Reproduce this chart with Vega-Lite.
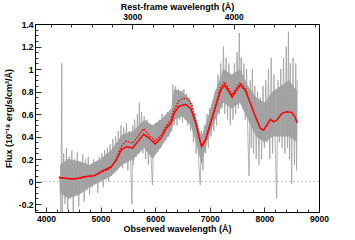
{
  "$schema": "https://vega.github.io/schema/vega-lite/v6.json",
  "width": 284,
  "height": 188,
  "autosize": "none",
  "padding": {"left": 35, "top": 24, "right": 36, "bottom": 28},
  "background": "white",
  "config": {
    "view": {"stroke": "black", "strokeWidth": 1},
    "axis": {
      "domain": false, "grid": false, "labelFont": "Liberation Sans", "titleFont": "Liberation Sans",
      "labelFontSize": 8.5, "labelFontWeight": "bold", "titleFontSize": 9, "titleFontWeight": "bold",
      "labelColor": "black", "titleColor": "black", "tickColor": "black", "tickWidth": 0.8
    }
  },
  "datasets": {
    "band": [
      {"w":4260,"lo":-0.1,"hi":0.15},{"w":4400,"lo":-0.15,"hi":0.2},{"w":4600,"lo":-0.12,"hi":0.18},{"w":4800,"lo":-0.05,"hi":0.15},{"w":5000,"lo":0.0,"hi":0.2},{"w":5200,"lo":0.05,"hi":0.28},{"w":5400,"lo":0.15,"hi":0.42},{"w":5600,"lo":0.2,"hi":0.45},{"w":5800,"lo":0.3,"hi":0.55},{"w":5950,"lo":0.2,"hi":0.5},{"w":6100,"lo":0.3,"hi":0.55},{"w":6300,"lo":0.45,"hi":0.65},{"w":6350,"lo":0.55,"hi":0.82},{"w":6500,"lo":0.58,"hi":0.8},{"w":6650,"lo":0.5,"hi":0.72},{"w":6750,"lo":0.35,"hi":0.55},{"w":6850,"lo":0.15,"hi":0.4},{"w":6950,"lo":0.35,"hi":0.55},{"w":7100,"lo":0.55,"hi":0.8},{"w":7250,"lo":0.7,"hi":1.0},{"w":7400,"lo":0.65,"hi":0.95},{"w":7550,"lo":0.7,"hi":1.0},{"w":7700,"lo":0.55,"hi":0.85},{"w":7850,"lo":0.4,"hi":0.75},{"w":8000,"lo":0.35,"hi":0.7},{"w":8150,"lo":0.4,"hi":0.8},{"w":8300,"lo":0.4,"hi":0.85},{"w":8450,"lo":0.4,"hi":0.9},{"w":8600,"lo":0.35,"hi":0.8}
    ],
    "spec": [
      {"w":4250,"f":0.05},{"w":4275,"f":-0.27},{"w":4290,"f":1.05},{"w":4300,"f":-0.27},{"w":4325,"f":0.25},{"w":4350,"f":-0.2},{"w":4375,"f":0.3},{"w":4400,"f":-0.25},{"w":4425,"f":0.22},{"w":4450,"f":-0.15},{"w":4475,"f":0.28},{"w":4500,"f":-0.27},{"w":4525,"f":0.2},{"w":4550,"f":-0.1},{"w":4575,"f":0.26},{"w":4600,"f":-0.22},{"w":4625,"f":0.18},{"w":4650,"f":-0.05},{"w":4675,"f":0.24},{"w":4700,"f":-0.18},{"w":4725,"f":0.2},{"w":4750,"f":-0.08},{"w":4775,"f":0.22},{"w":4800,"f":-0.12},{"w":4825,"f":0.15},{"w":4850,"f":-0.05},{"w":4875,"f":0.2},{"w":4900,"f":-0.02},{"w":4925,"f":0.18},{"w":4950,"f":-0.1},{"w":4975,"f":0.22},{"w":5000,"f":0.0},{"w":5025,"f":0.25},{"w":5050,"f":-0.05},{"w":5075,"f":0.28},{"w":5100,"f":0.02},{"w":5125,"f":0.3},{"w":5150,"f":0.0},{"w":5175,"f":0.33},{"w":5200,"f":0.05},{"w":5225,"f":0.38},{"w":5250,"f":0.08},{"w":5275,"f":0.4},{"w":5300,"f":0.1},{"w":5325,"f":0.45},{"w":5350,"f":0.15},{"w":5375,"f":0.5},{"w":5400,"f":0.12},{"w":5425,"f":0.48},{"w":5450,"f":0.2},{"w":5475,"f":0.52},{"w":5500,"f":0.1},{"w":5525,"f":0.45},{"w":5550,"f":0.18},{"w":5575,"f":-0.2},{"w":5590,"f":0.5},{"w":5600,"f":0.15},{"w":5625,"f":0.55},{"w":5650,"f":0.22},{"w":5675,"f":0.6},{"w":5700,"f":0.25},{"w":5710,"f":0.7},{"w":5725,"f":0.3},{"w":5750,"f":0.62},{"w":5775,"f":0.25},{"w":5800,"f":0.58},{"w":5825,"f":0.2},{"w":5850,"f":0.55},{"w":5875,"f":0.15},{"w":5900,"f":0.5},{"w":5925,"f":0.2},{"w":5950,"f":-0.03},{"w":5975,"f":0.45},{"w":6000,"f":0.25},{"w":6025,"f":0.52},{"w":6050,"f":0.28},{"w":6075,"f":0.55},{"w":6100,"f":0.3},{"w":6125,"f":0.6},{"w":6150,"f":0.35},{"w":6175,"f":0.58},{"w":6200,"f":0.38},{"w":6225,"f":0.62},{"w":6250,"f":0.4},{"w":6275,"f":0.6},{"w":6300,"f":0.45},{"w":6325,"f":0.86},{"w":6350,"f":0.5},{"w":6375,"f":0.85},{"w":6400,"f":0.5},{"w":6425,"f":0.82},{"w":6450,"f":0.55},{"w":6475,"f":0.8},{"w":6500,"f":0.52},{"w":6525,"f":0.82},{"w":6550,"f":0.55},{"w":6575,"f":0.78},{"w":6600,"f":0.5},{"w":6625,"f":0.75},{"w":6650,"f":0.45},{"w":6675,"f":0.7},{"w":6700,"f":0.35},{"w":6725,"f":0.6},{"w":6750,"f":0.25},{"w":6775,"f":0.5},{"w":6800,"f":0.15},{"w":6825,"f":-0.03},{"w":6850,"f":0.45},{"w":6875,"f":0.1},{"w":6900,"f":0.5},{"w":6925,"f":0.25},{"w":6950,"f":0.6},{"w":6975,"f":0.3},{"w":7000,"f":0.65},{"w":7025,"f":0.4},{"w":7050,"f":0.72},{"w":7075,"f":0.45},{"w":7100,"f":0.8},{"w":7125,"f":0.5},{"w":7150,"f":0.95},{"w":7175,"f":0.6},{"w":7200,"f":1.05},{"w":7225,"f":0.65},{"w":7250,"f":1.2},{"w":7275,"f":0.6},{"w":7300,"f":1.1},{"w":7325,"f":0.55},{"w":7350,"f":1.05},{"w":7375,"f":0.5},{"w":7400,"f":0.95},{"w":7425,"f":0.55},{"w":7450,"f":1.05},{"w":7475,"f":0.6},{"w":7500,"f":1.15},{"w":7525,"f":0.65},{"w":7540,"f":1.32},{"w":7560,"f":0.7},{"w":7575,"f":1.1},{"w":7600,"f":0.65},{"w":7625,"f":1.05},{"w":7650,"f":0.55},{"w":7675,"f":1.0},{"w":7700,"f":0.35},{"w":7720,"f":0.05},{"w":7740,"f":0.9},{"w":7760,"f":0.3},{"w":7780,"f":1.0},{"w":7800,"f":0.25},{"w":7825,"f":0.85},{"w":7850,"f":0.2},{"w":7875,"f":0.8},{"w":7900,"f":0.15},{"w":7925,"f":0.75},{"w":7950,"f":0.2},{"w":7975,"f":0.85},{"w":8000,"f":0.3},{"w":8025,"f":0.9},{"w":8050,"f":0.35},{"w":8075,"f":1.0},{"w":8100,"f":0.2},{"w":8125,"f":1.1},{"w":8150,"f":0.25},{"w":8175,"f":0.95},{"w":8200,"f":0.3},{"w":8225,"f":-0.15},{"w":8250,"f":0.9},{"w":8275,"f":0.35},{"w":8300,"f":1.0},{"w":8325,"f":0.3},{"w":8350,"f":1.1},{"w":8375,"f":0.25},{"w":8400,"f":1.2},{"w":8425,"f":0.3},{"w":8440,"f":1.33},{"w":8460,"f":0.2},{"w":8475,"f":1.05},{"w":8500,"f":-0.02},{"w":8525,"f":1.1},{"w":8550,"f":0.15},{"w":8575,"f":1.05},{"w":8590,"f":0.1},{"w":8600,"f":0.9}
    ],
    "model": [
      {"w":4237,"f":0.036},{"w":4350,"f":0.03},{"w":4500,"f":0.024},{"w":4600,"f":0.03},{"w":4710,"f":0.044},{"w":4890,"f":0.053},{"w":5013,"f":0.089},{"w":5100,"f":0.11},{"w":5195,"f":0.133},{"w":5286,"f":0.19},{"w":5377,"f":0.28},{"w":5470,"f":0.31},{"w":5590,"f":0.3},{"w":5680,"f":0.355},{"w":5790,"f":0.42},{"w":5893,"f":0.385},{"w":6000,"f":0.334},{"w":6105,"f":0.385},{"w":6197,"f":0.47},{"w":6290,"f":0.52},{"w":6350,"f":0.61},{"w":6440,"f":0.67},{"w":6560,"f":0.686},{"w":6650,"f":0.65},{"w":6743,"f":0.52},{"w":6800,"f":0.4},{"w":6850,"f":0.31},{"w":6925,"f":0.37},{"w":7015,"f":0.52},{"w":7107,"f":0.666},{"w":7198,"f":0.81},{"w":7270,"f":0.858},{"w":7350,"f":0.8},{"w":7410,"f":0.75},{"w":7470,"f":0.8},{"w":7560,"f":0.858},{"w":7650,"f":0.81},{"w":7745,"f":0.695},{"w":7835,"f":0.577},{"w":7926,"f":0.473},{"w":7987,"f":0.459},{"w":8048,"f":0.503},{"w":8110,"f":0.553},{"w":8170,"f":0.53},{"w":8230,"f":0.547},{"w":8320,"f":0.607},{"w":8410,"f":0.62},{"w":8500,"f":0.615},{"w":8560,"f":0.575},{"w":8600,"f":0.52}
    ],
    "model2": [
      {"w":4237,"f":0.036},{"w":4350,"f":0.03},{"w":4500,"f":0.024},{"w":4600,"f":0.03},{"w":4710,"f":0.044},{"w":4890,"f":0.053},{"w":5013,"f":0.085},{"w":5100,"f":0.1},{"w":5195,"f":0.125},{"w":5286,"f":0.2},{"w":5377,"f":0.31},{"w":5470,"f":0.36},{"w":5590,"f":0.34},{"w":5680,"f":0.4},{"w":5790,"f":0.47},{"w":5893,"f":0.41},{"w":6000,"f":0.36},{"w":6105,"f":0.41},{"w":6197,"f":0.49},{"w":6290,"f":0.55},{"w":6350,"f":0.64},{"w":6440,"f":0.72},{"w":6520,"f":0.74},{"w":6600,"f":0.735},{"w":6670,"f":0.68},{"w":6743,"f":0.55},{"w":6800,"f":0.41},{"w":6850,"f":0.32},{"w":6925,"f":0.38},{"w":7015,"f":0.53},{"w":7107,"f":0.68},{"w":7198,"f":0.84},{"w":7270,"f":0.885},{"w":7350,"f":0.82},{"w":7410,"f":0.77},{"w":7470,"f":0.82},{"w":7560,"f":0.88},{"w":7650,"f":0.83},{"w":7700,"f":0.77}
    ]
  },
  "resolve": {"axis": {"x": "independent", "y": "independent"}},
  "layer": [
    {
      "data": {"values": [{"z": 0}]},
      "mark": {"type": "rule", "color": "#c4c4c4", "strokeDash": [2, 2], "strokeWidth": 1},
      "encoding": {"y": {"field": "z", "type": "quantitative", "scale": {"domain": [-0.27, 1.4]}, "axis": null}}
    },
    {
      "data": {"name": "band"},
      "mark": {"type": "area", "color": "#a6a6a6", "opacity": 1, "clip": true},
      "encoding": {
        "x": {"field": "w", "type": "quantitative", "scale": {"domain": [3800, 9000], "nice": false, "zero": false}, "axis": null},
        "y": {"field": "lo", "type": "quantitative", "scale": {"domain": [-0.27, 1.4], "nice": false, "zero": false}, "axis": null},
        "y2": {"field": "hi"}
      }
    },
    {
      "data": {"name": "spec"},
      "mark": {"type": "line", "color": "#a0a0a0", "strokeWidth": 0.8, "clip": true},
      "encoding": {
        "x": {"field": "w", "type": "quantitative",
          "axis": {"orient": "bottom", "values": [4000, 5000, 6000, 7000, 8000, 9000], "format": "d", "tickSize": -5, "labelPadding": 7, "title": "Observed wavelength (Å)", "titlePadding": 2, "labelFlush": false}},
        "y": {"field": "f", "type": "quantitative",
          "axis": {"orient": "left", "values": [-0.2, 0, 0.2, 0.4, 0.6, 0.8, 1, 1.2, 1.4], "tickSize": -6, "labelPadding": 8, "labelExpr": "replace(format(datum.value, '~g'), '−', '-')", "title": "Flux (10⁻¹⁸ erg/s/cm²/Å)", "titlePadding": 5, "labelFlush": false}}
      }
    },
    {
      "data": {"name": "model2"},
      "mark": {"type": "line", "color": "#ff0000", "strokeWidth": 1.5, "strokeDash": [1.5, 1.5], "clip": true},
      "encoding": {
        "x": {"field": "w", "type": "quantitative", "axis": {"orient": "bottom", "values": [4200, 4400, 4600, 4800, 5200, 5400, 5600, 5800, 6200, 6400, 6600, 6800, 7200, 7400, 7600, 7800, 8200, 8400, 8600, 8800], "tickSize": -3, "labels": false, "title": null}},
        "y": {"field": "f", "type": "quantitative", "axis": {"orient": "left", "values": [-0.25, -0.15, -0.1, -0.05, 0.05, 0.1, 0.15, 0.25, 0.3, 0.35, 0.45, 0.5, 0.55, 0.65, 0.7, 0.75, 0.85, 0.9, 0.95, 1.05, 1.1, 1.15, 1.25, 1.3, 1.35], "tickSize": -3, "labels": false, "title": null}}
      }
    },
    {
      "data": {"name": "model"},
      "mark": {"type": "line", "color": "#ff0000", "strokeWidth": 1.5, "clip": true},
      "encoding": {
        "x": {"field": "w", "type": "quantitative", "axis": {"orient": "top", "values": [5580, 7440], "tickSize": -5, "labelPadding": 8, "labelExpr": "datum.value < 6000 ? '3000' : '4000'", "title": "Rest-frame wavelength (Å)", "titlePadding": 1, "labelFlush": false}},
        "y": {"field": "f", "type": "quantitative", "axis": null}
      }
    },
    {
      "data": {"name": "model"},
      "mark": {"type": "line", "opacity": 0, "clip": true},
      "encoding": {
        "x": {"field": "w", "type": "quantitative", "axis": {"orient": "top", "values": [4092, 4464, 4836, 5208, 5952, 6324, 6696, 7068, 7812, 8184, 8556, 8928], "tickSize": -3, "labels": false, "title": null}},
        "y": {"field": "f", "type": "quantitative", "axis": null}
      }
    }
  ]
}
